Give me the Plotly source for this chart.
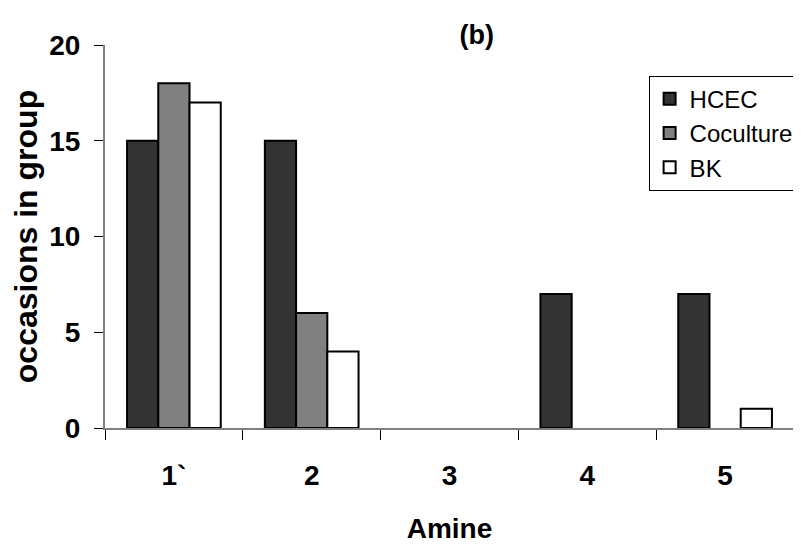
import plotly.graph_objects as go

categories = ["1`", "2", "3", "4", "5"]
hcec = [15, 15, 0, 7, 7]
coculture = [18, 6, 0, 0, 0]
bk = [17, 4, 0, 0, 1]

font_family = "Liberation Sans, Arial, sans-serif"


def outline(values):
    return [2 if v else 0 for v in values]


fig = go.Figure()
fig.add_trace(go.Bar(name="HCEC", x=categories, y=hcec, legendgroup="a",
                     marker=dict(color="#333333", line=dict(color="black", width=outline(hcec)))))
fig.add_trace(go.Bar(name="Coculture", x=categories, y=coculture, legendgroup="b",
                     marker=dict(color="#808080", line=dict(color="black", width=outline(coculture)))))
fig.add_trace(go.Bar(name="BK", x=categories, y=bk, legendgroup="c",
                     marker=dict(color="white", line=dict(color="black", width=outline(bk)))))

fig.update_layout(
    width=793, height=540,
    margin=dict(l=97, r=2, t=37, b=120),
    paper_bgcolor="white", plot_bgcolor="white",
    barmode="group", bargap=0.32, bargroupgap=0,
    font=dict(family=font_family, color="black"),
    title=dict(text="<b>(b)</b>", x=0.591, xanchor="center", y=0.95, yanchor="middle",
               font=dict(size=27)),
    showlegend=True,
    legend=dict(x=0.789, y=0.92, xanchor="left", yanchor="top",
                bgcolor="white", bordercolor="black", borderwidth=1,
                font=dict(size=24), tracegroupgap=0, itemwidth=30),
    xaxis=dict(
        showline=True, linecolor="#808080", linewidth=2,
        ticks="outside", tickson="boundaries", ticklen=10, tickcolor="black", tickwidth=1,
        tickfont=dict(size=28), ticklabelstandoff=21,
        tickvals=categories, ticktext=["<b>" + c + "</b>" for c in categories],
        title=dict(text="<b>Amine</b>", font=dict(size=28), standoff=29),
        showgrid=False, zeroline=False,
    ),
    yaxis=dict(
        range=[0, 20], tickvals=[0, 5, 10, 15, 20],
        ticktext=["<b>0</b>", "<b>5</b>", "<b>10</b>", "<b>15</b>", "<b>20</b>"],
        showline=True, linecolor="#808080", linewidth=2,
        ticks="outside", ticklen=9, tickcolor="black", tickwidth=1,
        tickfont=dict(size=28), ticklabelstandoff=8,
        title=dict(text="<b>occasions in group</b>", font=dict(size=32), standoff=2),
        showgrid=False, zeroline=False,
    ),
)

fig.write_html("out.html")
